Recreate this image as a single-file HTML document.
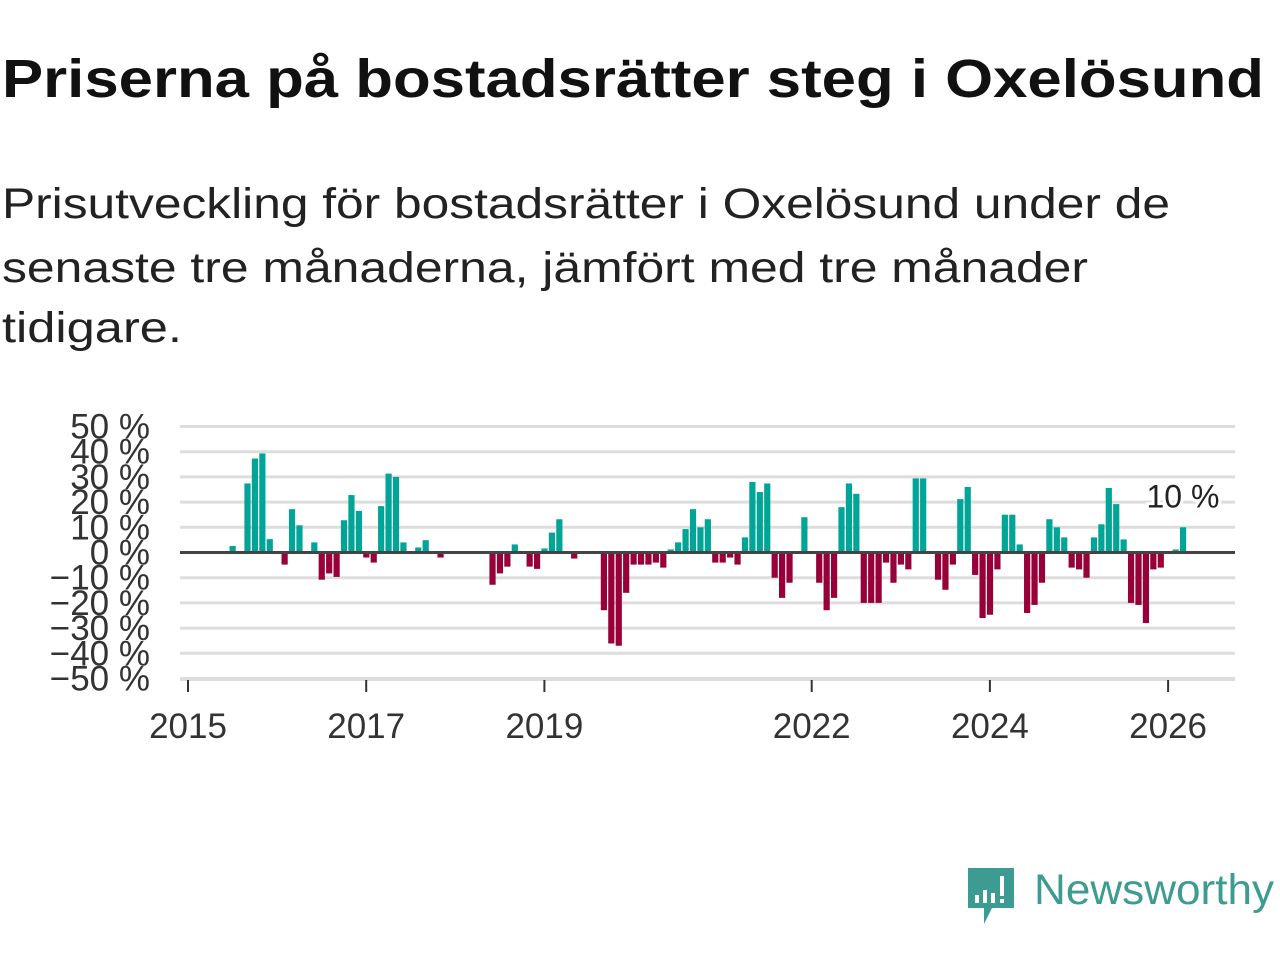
<!DOCTYPE html>
<html><head><meta charset="utf-8"><style>
body{margin:0;background:#fff;width:1280px;height:960px;overflow:hidden;font-family:"Liberation Sans",sans-serif}
</style></head><body>
<svg id="chart" width="1280" height="960" xmlns="http://www.w3.org/2000/svg">
<text x="2" y="97" font-size="54" font-weight="bold" fill="#111" textLength="1262" lengthAdjust="spacingAndGlyphs">Priserna på bostadsrätter steg i Oxelösund</text>
<g font-size="43" fill="#222">
<text x="2" y="218" textLength="1168" lengthAdjust="spacingAndGlyphs">Prisutveckling för bostadsrätter i Oxelösund under de</text>
<text x="2" y="282" textLength="1086" lengthAdjust="spacingAndGlyphs">senaste tre månaderna, jämfört med tre månader</text>
<text x="2" y="342" textLength="180" lengthAdjust="spacingAndGlyphs">tidigare.</text>
</g>
<g id="grid"></g><g id="bars"></g><g id="axes"></g>
<g>
<path d="M968 868 h46 v40 h-22 l-8 16 v-16 h-16 z" fill="#3d9c92"/>
<rect x="975" y="895" width="4" height="8" fill="#fff"/><rect x="983" y="890" width="4" height="13" fill="#fff"/><rect x="991" y="893" width="4" height="10" fill="#fff"/><rect x="1000" y="876" width="4" height="20" fill="#fff"/><rect x="1000" y="899" width="4" height="4" fill="#fff"/>
<text x="1034" y="904" font-size="43" fill="#3d9c92" textLength="240" lengthAdjust="spacingAndGlyphs">Newsworthy</text>
</g>
</svg>
<script>
const startYear = 2015;
const values = [0,0,0,0,0,0,2.6,0,27.4,37.3,39.3,5.3,0,-4.8,17.2,10.8,0,4,-10.8,-8.3,-9.7,12.8,22.8,16.5,-2,-4,18.4,31.3,30,4,0,2,4.9,0,-2,0,0,0,0,0,0,-12.8,-8.3,-5.6,3.2,0,-5.6,-6.5,1.6,7.9,13.2,0,-2.4,0,0,0,-22.9,-36.1,-37,-16,-4.8,-4.8,-4.8,-4,-6,1.2,4,9.3,17.2,10,13.2,-4,-4,-2,-4.8,6,28,24,27.4,-10,-18,-12,0,14,0,-12,-22.9,-18,18,27.4,23.3,-20,-20,-20,-4,-12,-4.8,-6.7,29.4,29.4,0,-10.8,-14.8,-4.8,21.2,26,-8.9,-26,-24.7,-6.7,15,15,3.2,-24,-20.8,-12,13.2,10,6,-6,-6.7,-10,6,11.2,25.6,19.2,5.2,-20,-20.8,-28,-6.7,-6,0,1.2,10];
const yTicks = [50,40,30,20,10,0,-10,-20,-30,-40,-50];
const xTickYears = [2015,2017,2019,2022,2024,2026];
const NS="http://www.w3.org/2000/svg";
const x0=188, monthW=89.1/12, yZero=552.5, pxPer=2.52;
const xs = i => x0 + i*monthW;
const ys = v => yZero - v*pxPer;
function mk(t,a){const e=document.createElementNS(NS,t);for(const k in a)e.setAttribute(k,a[k]);return e;}
const grid=document.getElementById('grid'), bars=document.getElementById('bars'), axes=document.getElementById('axes');
yTicks.forEach(v=>{
  const l=mk('line',{x1:180,x2:1235,y1:ys(v),y2:ys(v),stroke:'#ddd','stroke-width':3});
  
  
  grid.appendChild(l);
  const t=mk('text',{x:150,y:ys(v)+12,'font-size':35,fill:'#333','text-anchor':'end'});
  t.textContent=(v<0?'\u2212'+(-v):v)+' %';
  
  
  axes.appendChild(t);
});
values.forEach((v,i)=>{
  if(v===0)return;
  const y=Math.min(ys(v),yZero), h=Math.abs(ys(v)-yZero);
  const r=mk('rect',{x:xs(i)-3,y:y,width:6.2,height:h,fill:v>0?'#00a598':'#98003a'});
  
  
  bars.appendChild(r);
});
const z=mk('line',{x1:180,x2:1235,y1:yZero,y2:yZero,stroke:'#444','stroke-width':3});


axes.appendChild(z);
const base=mk('line',{x1:180,x2:1235,y1:680,y2:680,stroke:'#ddd','stroke-width':2});


axes.appendChild(base);
xTickYears.forEach(yr=>{
  const x=xs((yr-startYear)*12);
  const l=mk('line',{x1:x,x2:x,y1:680,y2:692,stroke:'#333','stroke-width':2});
  
  
  axes.appendChild(l);
  const t=mk('text',{x:x,y:738,'font-size':35,fill:'#333','text-anchor':'middle'});
  t.textContent=yr;
  
  
  axes.appendChild(t);
});
const li=values.length-1;
const a=mk('text',{x:xs(li),y:ys(values[li])-20,'font-size':32,fill:'#222','text-anchor':'middle',stroke:'#fff','stroke-width':6,'paint-order':'stroke'});
a.textContent=Math.round(values[li])+' %';


axes.appendChild(a);
</script>
</body></html>
